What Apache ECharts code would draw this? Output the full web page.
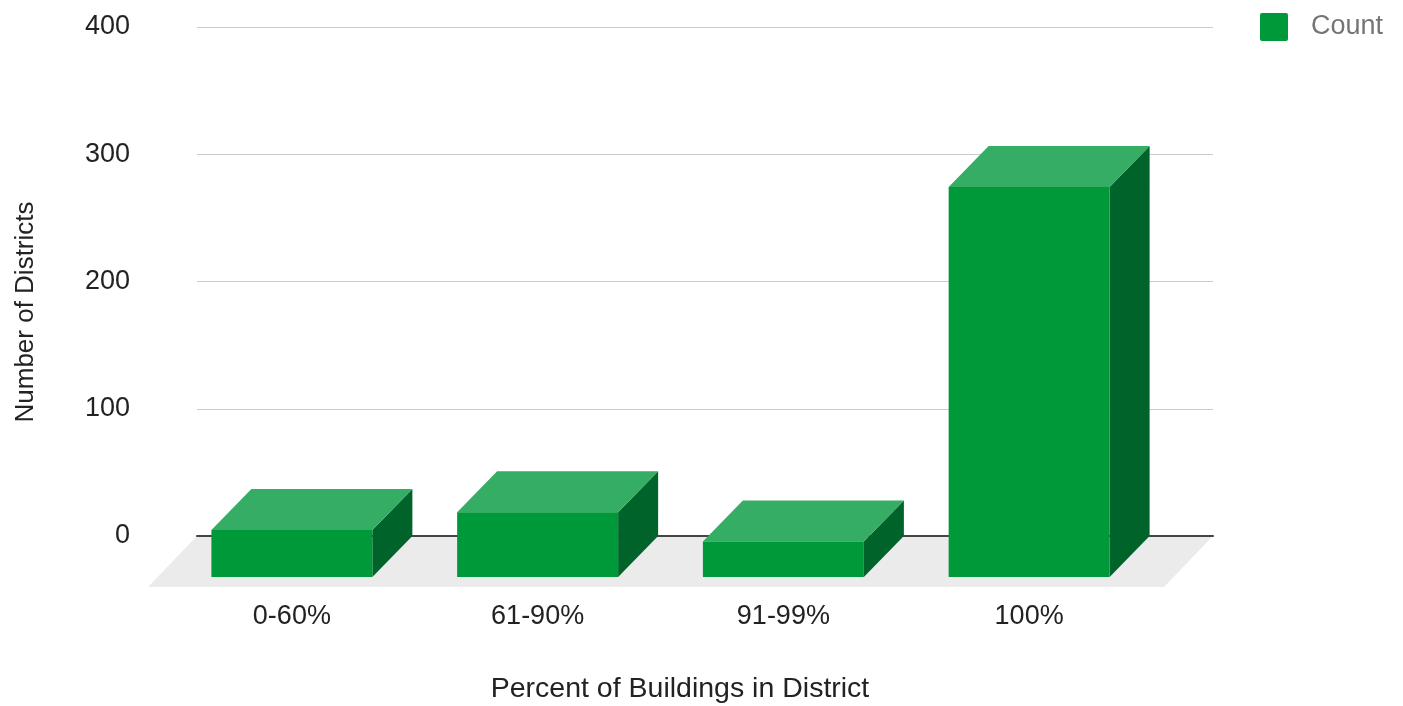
<!DOCTYPE html>
<html><head><meta charset="utf-8">
<script src="https://cdn.jsdelivr.net/npm/echarts@6/dist/echarts.min.js"></script>
<style>html,body{margin:0;padding:0;background:#fff}#c{width:1403px;height:706px}</style>
</head><body><div id="c"></div>
<script>
// ---- data ----
const categories = ['0-60%', '61-90%', '91-99%', '100%'];
const counts = [37, 51, 28, 307];
const yTicks = [0, 100, 200, 300, 400];
const seriesName = 'Count';
const xTitle = 'Percent of Buildings in District';
const yTitle = 'Number of Districts';

// ---- style ----
const FONT = '"Liberation Sans", Arial, sans-serif';
const DX = 40, DY = 41;      // bar depth offset
const FDX = 49, FDY = 51;    // floor depth offset
const FRONT = '#009939', TOP = '#35ad64', SIDE = '#00642a';
const BAR_FRAC = 0.655;
const FS = 27;

const chart = echarts.init(document.getElementById('c'), null, { renderer: 'canvas' });
chart.setOption({
  animation: false,
  color: [FRONT],
  textStyle: { fontFamily: FONT },
  grid: [
    { left: 197, right: 190, top: 27, bottom: 170 },
    { left: 169, right: 251, top: 69, bottom: 129 }
  ],
  xAxis: [
    { gridIndex: 0, type: 'category', data: categories, z: 2,
      axisLine: { show: true, lineStyle: { color: '#444', width: 2 } },
      axisTick: { show: false }, axisLabel: { show: false }, splitLine: { show: false } },
    { gridIndex: 1, type: 'category', data: categories,
      axisLine: { show: false }, axisTick: { show: false }, splitLine: { show: false },
      axisLabel: { fontSize: FS, color: '#222', margin: 26, fontFamily: FONT } }
  ],
  yAxis: [
    { gridIndex: 0, type: 'value', min: yTicks[0], max: yTicks[yTicks.length - 1],
      interval: yTicks[1] - yTicks[0], z: 1,
      axisLine: { show: false }, axisTick: { show: false },
      splitLine: { lineStyle: { color: '#cccccc', width: 1 } },
      axisLabel: { fontSize: FS, color: '#222', margin: 67, fontFamily: FONT } },
    { gridIndex: 1, type: 'value', min: yTicks[0], max: yTicks[yTicks.length - 1],
      interval: yTicks[1] - yTicks[0], show: false }
  ],
  legend: {
    data: [seriesName], left: 1260, top: 13, padding: 0,
    icon: 'path://M2,0H26A2,2,0,0,1,28,2V26A2,2,0,0,1,26,28H2A2,2,0,0,1,0,26V2A2,2,0,0,1,2,0Z',
    itemWidth: 28, itemHeight: 28,
    textStyle: { fontSize: FS, color: '#757575', fontFamily: FONT, padding: [0, 0, 0, 18] }
  },
  graphic: [
    { type: 'text', x: 680, y: 689, style: { text: xTitle, font: '28.5px ' + FONT, fill: '#222', align: 'center', verticalAlign: 'middle' } },
    { type: 'text', x: 26, y: 312, rotation: Math.PI / 2, style: { text: yTitle, font: '26px ' + FONT, fill: '#222', align: 'center', verticalAlign: 'middle' } }
  ],
  series: [
    { type: 'custom', xAxisIndex: 0, yAxisIndex: 0, z: 0, silent: true, data: [[0, 0]],
      renderItem: function (params, api) {
        const cs = params.coordSys;
        const y = cs.y + cs.height, x0 = cs.x, x1 = cs.x + cs.width;
        return { type: 'polygon', shape: { points: [[x0, y], [x1, y], [x1 - FDX, y + FDY], [x0 - FDX, y + FDY]] },
                 style: { fill: '#ebebeb' } };
      } },
    { type: 'custom', name: seriesName, xAxisIndex: 1, yAxisIndex: 1, z: 5,
      itemStyle: { color: FRONT },
      data: counts.map(function (v, i) { return [i, v]; }),
      encode: { x: 0, y: 1 },
      renderItem: function (params, api) {
        const i = api.value(0), v = api.value(1);
        const base = api.coord([i, 0]), top = api.coord([i, v]);
        const w = api.size([1, 0])[0] * BAR_FRAC;
        const xl = base[0] - w / 2, xr = base[0] + w / 2, yb = base[1], yt = top[1];
        return { type: 'group', children: [
          { type: 'polygon', shape: { points: [[xr, yt], [xr + DX, yt - DY], [xr + DX, yb - DY], [xr, yb]] }, style: { fill: SIDE } },
          { type: 'polygon', shape: { points: [[xl, yt], [xl + DX, yt - DY], [xr + DX, yt - DY], [xr, yt]] }, style: { fill: TOP } },
          { type: 'rect', shape: { x: xl, y: yt, width: w, height: yb - yt }, style: { fill: FRONT } }
        ] };
      } }
  ]
});
</script></body></html>
